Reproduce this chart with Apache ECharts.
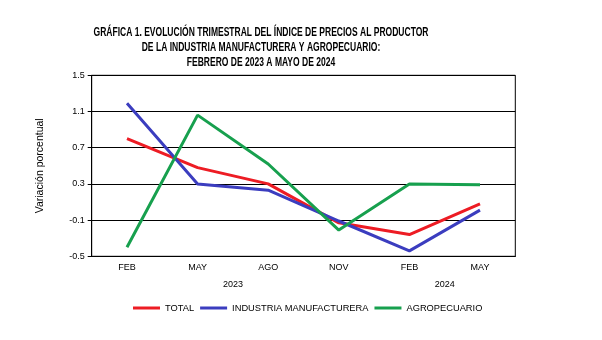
<!DOCTYPE html>
<html>
<head>
<meta charset="utf-8">
<script src="https://cdn.jsdelivr.net/npm/echarts@6/dist/echarts.min.js"></script>
<style>
  html, body { margin: 0; padding: 0; background: #fff; }
  #chart { width: 602px; height: 340px; }
</style>
</head>
<body>
<div id="chart"></div>
<script>
// Quarterly months and year groups
const months = ['FEB', 'MAY', 'AGO', 'NOV', 'FEB', 'MAY'];
// Year labels sit on a finer 13-point scale under the month axis
const yearSlots = ['', '', '', '', '2023', '', '', '', '', '', '2024', '', ''];

// Percent variation per series
const total = [0.80, 0.48, 0.30, -0.13, -0.26, 0.08];
const industria = [1.19, 0.30, 0.23, -0.11, -0.44, 0.01];
const agro = [-0.40, 1.06, 0.52, -0.21, 0.30, 0.29];

// Y tick values
const yTicks = [-0.5, -0.1, 0.3, 0.7, 1.1, 1.5];

// Title lines
const titleLines = [
  'GRÁFICA 1. EVOLUCIÓN TRIMESTRAL DEL ÍNDICE DE PRECIOS AL PRODUCTOR',
  'DE LA INDUSTRIA MANUFACTURERA Y AGROPECUARIO:',
  'FEBRERO DE 2023 A MAYO DE 2024'
];

const baseFont = 'Liberation Sans, Arial, sans-serif';

const chart = echarts.init(document.getElementById('chart'), null, { renderer: 'canvas' });

function lineSeries(name, data, color) {
  return {
    name: name,
    type: 'line',
    data: data,
    symbol: 'none',
    smooth: false,
    lineStyle: { color: color, width: 3 },
    itemStyle: { color: color },
    emphasis: { disabled: true }
  };
}

// Condensed bold title, drawn as horizontally compressed text
const titleGraphics = titleLines.map((t, i) => ({
  type: 'text',
  x: 261,
  y: 32.5 + i * 15,
  scaleX: 0.71,
  silent: true,
  style: {
    text: t,
    fill: '#000',
    font: 'bold 12px Liberation Sans, Arial, sans-serif',
    textAlign: 'center',
    textVerticalAlign: 'middle'
  }
}));

chart.setOption({
  animation: false,
  backgroundColor: '#fff',
  graphic: titleGraphics,
  grid: {
    left: 91.7,
    right: 86.7,
    top: 75.3,
    bottom: 83.7,
    show: true,
    borderColor: '#000',
    borderWidth: 1,
    containLabel: false
  },
  legend: {
    left: 133,
    top: 303.5,
    padding: 0,
    itemWidth: 27,
    itemHeight: 3,
    itemGap: 6,
    icon: 'rect',
    textStyle: { fontFamily: baseFont, fontSize: 9.3, color: '#000' },
    data: ['TOTAL', 'INDUSTRIA MANUFACTURERA', 'AGROPECUARIO']
  },
  xAxis: [
    {
      type: 'category',
      data: months,
      boundaryGap: true,
      axisLine: { show: true, onZero: false, lineStyle: { color: '#000', width: 1 } },
      axisTick: { show: false },
      axisLabel: { fontFamily: baseFont, fontSize: 9, color: '#000', margin: 7 }
    },
    {
      type: 'category',
      data: yearSlots,
      boundaryGap: false,
      position: 'bottom',
      offset: 16.5,
      axisLine: { show: false, onZero: false },
      axisTick: { show: false },
      splitLine: { show: false },
      axisLabel: { interval: 0, fontFamily: baseFont, fontSize: 9, color: '#000', margin: 7 }
    }
  ],
  yAxis: {
    type: 'value',
    min: -0.5,
    max: 1.5,
    name: 'Variación porcentual',
    nameLocation: 'middle',
    nameRotate: 90,
    nameGap: 46,
    nameTextStyle: { fontFamily: baseFont, fontSize: 10.5, color: '#000' },
    axisLine: { show: true, lineStyle: { color: '#000', width: 1 } },
    axisTick: { show: true, length: 4, lineStyle: { color: '#000' }, customValues: yTicks },
    axisLabel: {
      fontFamily: baseFont, fontSize: 9, color: '#000', margin: 7,
      customValues: yTicks,
      formatter: v => v.toFixed(1)
    },
    splitLine: { show: true, lineStyle: { color: '#000', width: 1 } }
  },
  series: [
    lineSeries('TOTAL', total, '#ED1C24'),
    lineSeries('INDUSTRIA MANUFACTURERA', industria, '#3B3DBF'),
    lineSeries('AGROPECUARIO', agro, '#17A04E')
  ]
});
</script>
</body>
</html>
